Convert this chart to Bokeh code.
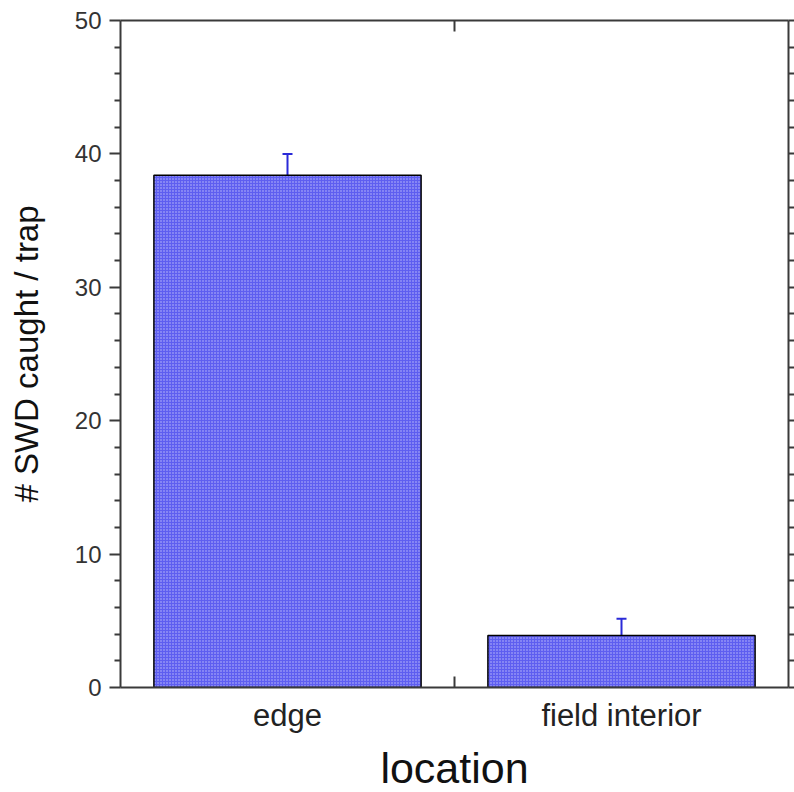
from bokeh.plotting import figure
from bokeh.models import (Range1d, LinearAxis, FixedTicker, ColumnDataSource,
                          Whisker, TeeHead)
from bokeh.embed import file_html
from bokeh.resources import INLINE

# ---- data ----
categories = ["edge", "field interior"]
means = [38.4, 3.9]
errors = [1.6, 1.25]
y_major_ticks = [0, 10, 20, 30, 40, 50]
y_minor_ticks = [2, 4, 6, 8, 12, 14, 16, 18, 22, 24, 26, 28, 32, 34, 36, 38, 42, 44, 46, 48]
x_label = "location"
y_label = "# SWD caught / trap"

xpos = [i + 0.5 for i in range(len(categories))]
boundaries = [i for i in range(1, len(categories))]
upper = [m + e for m, e in zip(means, errors)]

src = ColumnDataSource(dict(x=xpos, top=means, upper=upper, cat=categories))

AX = "#3a3a3a"
FONT = "Liberation Sans"

p = figure(frame_width=668, frame_height=667,
           x_range=Range1d(0, len(categories)), y_range=Range1d(0, 50),
           output_backend="svg", toolbar_location=None,
           x_axis_location=None, y_axis_location=None,
           min_border_left=120, min_border_top=20, min_border_right=4,
           min_border_bottom=10)
p.outline_line_color = None
p.background_fill_color = "white"
p.border_fill_color = "white"
p.xgrid.visible = False
p.ygrid.visible = False

p.vbar(x="x", top="top", width=0.8, bottom=0, source=src,
       fill_color="#5e5ef0", line_color="black", line_width=1.5,
       hatch_pattern="dot", hatch_color="white", hatch_alpha=0.6, hatch_scale=3)

w = Whisker(base="x", upper="upper", lower="top", source=src,
            line_color="#2a2ad8", line_width=2,
            upper_head=TeeHead(size=10, line_color="#2a2ad8", line_width=2),
            lower_head=None)
p.add_layout(w)

def style_common(ax):
    ax.axis_line_color = AX
    ax.axis_line_width = 2
    ax.major_tick_line_color = AX
    ax.major_tick_line_width = 2
    ax.minor_tick_line_color = AX
    ax.minor_tick_line_width = 2

# left axis
left = LinearAxis(ticker=FixedTicker(ticks=y_major_ticks, minor_ticks=y_minor_ticks))
style_common(left)
left.major_tick_out = 11
left.major_tick_in = 0
left.minor_tick_out = 6
left.minor_tick_in = 0
left.major_label_standoff = 8
left.major_label_text_font = FONT
left.major_label_text_font_size = "24px"
left.major_label_text_color = "#333333"
left.axis_label = y_label
left.axis_label_text_font = FONT
left.axis_label_text_font_size = "33px"
left.axis_label_text_font_style = "normal"
left.axis_label_text_color = "#111111"
left.axis_label_standoff = 27
p.add_layout(left, "left")

# right axis: ticks only (all same length)
right = LinearAxis(ticker=FixedTicker(ticks=[], minor_ticks=y_major_ticks + y_minor_ticks))
style_common(right)
right.minor_tick_out = 6
right.minor_tick_in = 0
right.major_tick_out = 0
right.major_tick_in = 0
p.add_layout(right, "right")

# bottom axis: labels at category centres, tick at category boundary
bottom = LinearAxis(ticker=FixedTicker(ticks=xpos, minor_ticks=boundaries))
style_common(bottom)
bottom.major_tick_out = 0
bottom.major_tick_in = 0
bottom.minor_tick_out = 0
bottom.minor_tick_in = 11
bottom.major_label_overrides = {x: c for x, c in zip(xpos, categories)}
bottom.major_label_standoff = 10
bottom.major_label_text_font = FONT
bottom.major_label_text_font_size = "31px"
bottom.major_label_text_color = "#222222"
bottom.axis_label = x_label
bottom.axis_label_text_font = FONT
bottom.axis_label_text_font_size = "43px"
bottom.axis_label_text_font_style = "normal"
bottom.axis_label_text_color = "#111111"
bottom.axis_label_standoff = 8
p.add_layout(bottom, "below")

# top axis: only boundary tick
top = LinearAxis(ticker=FixedTicker(ticks=[], minor_ticks=boundaries))
style_common(top)
top.major_tick_out = 0
top.major_tick_in = 0
top.minor_tick_out = 0
top.minor_tick_in = 11
p.add_layout(top, "above")

open("out.html", "w").write(file_html(p, INLINE))
